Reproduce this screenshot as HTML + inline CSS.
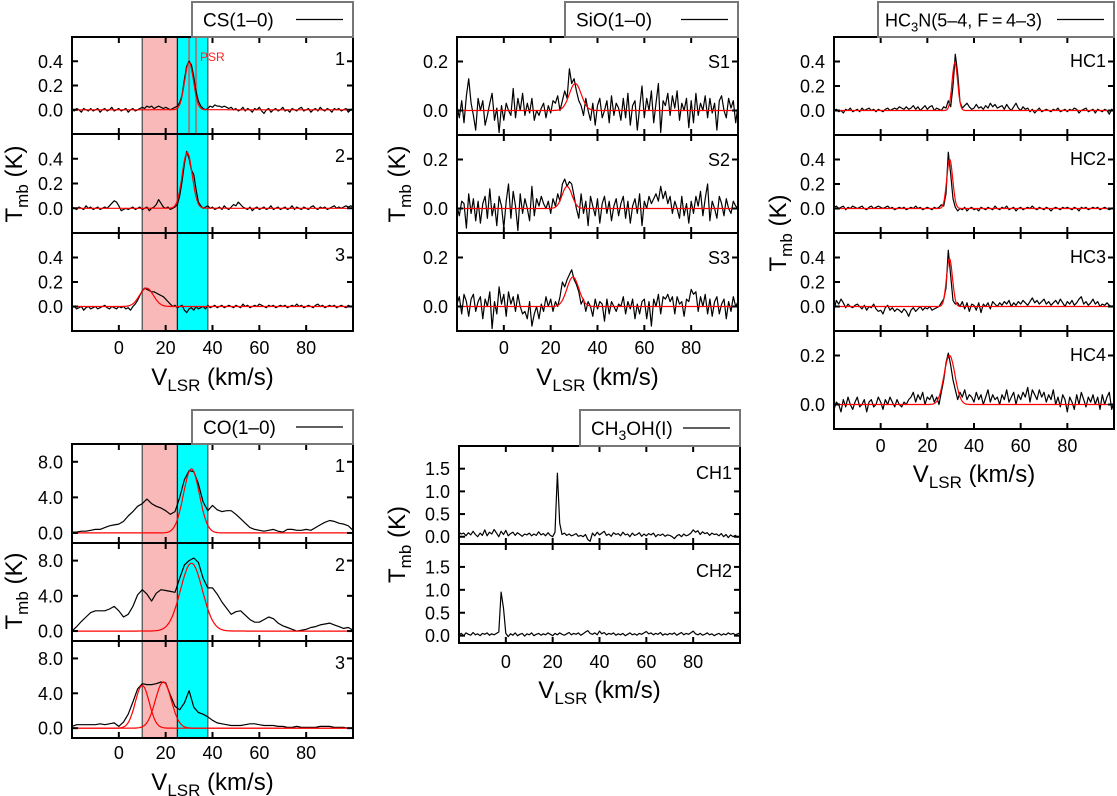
<!DOCTYPE html>
<html><head><meta charset="utf-8"><title>Spectra</title>
<style>
html,body{margin:0;padding:0;background:#fff;}
svg{display:block;font-family:"Liberation Sans",Arial,sans-serif;}
</style></head>
<body>
<svg id="chart" width="1117" height="796" viewBox="0 0 1117 796" xmlns="http://www.w3.org/2000/svg"></svg>
<script>
// ---------- DATA (velocity grid starts at -20 km/s) ----------
const velStart = -20;
const fineStep = 1;   // km/s for CS, SiO, HC3N, CH3OH
const coStep = 2;     // km/s for CO
const xTickValues = [0, 20, 40, 60, 80];
const csYTicks = [0, 0.2, 0.4];
const sioYTicks = [0, 0.2];
const hcYTicks = [0, 0.2, 0.4];
const hc4YTicks = [0, 0.2];
const coYTicks = [0, 4, 8];
const chYTicks = [0, 0.5, 1.0, 1.5];
const redBand = [10, 25];
const cyanBand = [25, 38];
const psrLines = [30, 33];

const cs1 = [0.00,-0.01,0.01,0.00,-0.02,0.01,0.00,-0.01,0.01,-0.01, 0.00,0.01,-0.02,0.00,0.01,-0.01,0.00,0.02,-0.01,0.00, 0.01,-0.01,0.00,0.01,-0.02,0.00,0.01,-0.01,0.00,0.01, 0.02,0.01,0.03,0.02,0.03,0.01,0.02,0.03,0.02,0.01, 0.02,0.01,0.00,0.01,0.02,0.03,0.06,0.12,0.25,0.36, 0.40,0.37,0.27,0.15,0.07,0.03,0.01,0.00,0.01,0.03, 0.02,0.04,0.03,0.03,0.02,0.03,0.02,0.01,0.02,0.00, 0.01,-0.01,0.00,0.02,-0.01,0.01,0.00,-0.02,0.01,0.00, 0.02,-0.01,-0.03,0.00,0.01,-0.02,0.00,0.01,-0.01,0.00, 0.02,-0.01,0.00,-0.02,0.01,0.00,-0.01,0.01,0.02,-0.01, 0.00,0.01,-0.02,0.00,0.01,-0.01,0.02,0.00,-0.01,0.01, 0.00,-0.02,0.01,0.00,0.01,-0.01,0.00,0.01,-0.02,0.00, 0.01];
const cs2 = [0.01,0.00,-0.01,0.01,0.00,-0.01,0.02,0.00,0.01,-0.01, 0.00,0.01,-0.01,0.00,0.01,0.00,0.02,0.04,0.06,0.05, 0.02,-0.02,-0.01,0.00,-0.01,0.00,0.01,-0.01,0.00,0.01, -0.01,0.00,0.01,-0.02,0.00,0.01,0.03,0.07,0.04,0.01, 0.00,0.01,-0.01,0.00,0.01,0.03,0.10,0.22,0.36,0.46, 0.40,0.31,0.27,0.15,0.05,0.02,0.00,0.01,0.02,0.00, 0.01,-0.01,0.00,0.01,-0.01,0.02,0.00,-0.01,0.01,0.03, 0.02,0.05,0.03,0.01,0.00,-0.01,0.01,-0.02,0.00,0.01, -0.01,0.00,0.01,-0.01,0.00,0.02,-0.01,0.00,0.01,-0.01, 0.00,0.01,-0.01,0.00,0.02,-0.01,0.01,0.00,-0.01,0.01, 0.00,-0.01,0.01,0.02,0.00,-0.01,0.01,0.00,0.01,-0.01, 0.00,0.01,0.02,0.00,0.01,0.00,0.01,0.02,0.01,0.02, 0.01];
const cs3 = [-0.01,0.00,-0.02,-0.01,0.00,-0.03,-0.01,0.00,-0.02,-0.01, 0.00,-0.02,-0.01,0.00,0.01,-0.01,-0.02,0.00,-0.01,-0.02, 0.00,-0.01,0.00,-0.02,-0.01,-0.03,0.00,0.02,0.05,0.09, 0.13,0.15,0.14,0.13,0.12,0.12,0.11,0.10,0.09,0.08, 0.06,0.04,0.02,0.00,0.01,-0.01,0.00,0.01,-0.03,-0.05, -0.02,-0.01,-0.03,0.00,-0.02,-0.01,0.00,-0.02,0.01,-0.01, 0.00,0.01,-0.01,0.00,0.01,-0.01,0.00,0.01,0.00,-0.01, 0.01,0.00,-0.01,0.02,0.00,0.01,-0.01,0.00,0.01,0.00, 0.02,0.01,0.00,-0.01,0.01,0.00,0.01,-0.01,0.00,0.01, 0.00,0.01,-0.01,0.00,0.01,0.00,0.02,0.00,0.01,-0.01, 0.00,0.01,0.00,-0.01,0.01,0.02,0.00,0.01,-0.01,0.00, 0.01,0.00,0.01,-0.01,0.00,0.01,0.00,-0.01,0.01,0.00, 0.00];

const co1 = [0.1,0.1,0.2,0.2,0.3,0.4,0.4,0.6,0.8,0.9, 1.0,1.3,1.9,2.4,3.0,3.3,3.8,3.3,3.0,2.8, 2.5,2.1,2.4,4.0,6.0,7.0,6.9,5.5,3.5,2.5, 3.1,2.6,2.4,2.5,2.5,2.1,1.6,1.1,0.6,0.4, 0.3,0.2,0.3,0.4,0.2,0.1,0.4,0.4,0.3,0.3, 0.4,0.3,0.6,0.9,1.2,1.4,1.3,1.1,1.0,0.8, 0.3];
const co2 = [0.0,0.5,1.1,1.6,2.1,2.3,2.3,2.3,2.5,2.8, 2.3,1.6,1.9,2.8,4.1,4.7,4.2,3.4,4.3,4.7, 4.6,4.5,4.4,6.0,7.5,8.0,8.3,7.8,6.0,4.9, 4.9,4.2,3.3,2.6,1.9,2.2,2.3,1.8,1.3,1.0, 1.0,1.3,1.6,1.4,0.9,0.6,0.4,0.2,0.0,0.1, 0.2,0.4,0.5,0.7,0.8,0.9,0.7,0.5,0.3,0.4, 0.1];
const co3 = [0.2,0.4,0.4,0.4,0.4,0.4,0.5,0.4,0.5,0.6, 0.2,0.7,1.6,3.0,4.5,5.1,5.0,5.0,5.1,5.3, 5.2,3.8,2.5,2.1,2.9,4.3,2.4,1.8,1.6,1.3, 0.9,0.6,0.5,0.4,0.3,0.3,0.3,0.4,0.5,0.5, 0.4,0.3,0.3,0.3,0.2,0.2,0.1,0.1,0.2,0.1, 0.1,0.1,0.1,0.2,0.2,0.2,0.1,0.1,0.1,0.0, 0.0];

const sio1 = [0.02,-0.03,0.04,-0.05,0.06,0.13,0.03,-0.02,-0.08,0.05, 0.00,0.04,-0.06,-0.02,0.03,0.07,-0.04,0.01,-0.09,0.02, -0.04,0.03,0.00,-0.02,0.09,-0.03,0.05,0.00,0.07,-0.02, 0.03,-0.01,0.05,-0.04,0.00,-0.02,0.01,0.03,-0.03,0.02, -0.01,0.04,0.03,0.06,0.00,0.04,0.08,0.05,0.17,0.11, 0.13,0.08,0.04,0.02,-0.02,0.05,0.00,-0.04,0.03,-0.06, 0.02,0.05,-0.03,0.00,0.04,-0.05,0.06,-0.02,0.03,0.01, -0.04,0.05,-0.03,0.07,-0.06,0.02,0.04,-0.08,0.01,0.10, -0.03,0.05,0.00,0.08,-0.05,0.03,0.11,-0.09,0.04,0.02, 0.07,-0.02,0.06,0.01,0.08,-0.04,0.03,0.00,0.05,-0.07, 0.04,-0.05,0.07,-0.02,0.03,0.00,0.06,-0.03,0.05,-0.01, 0.03,-0.08,0.04,0.06,0.00,-0.03,0.05,0.01,0.04,-0.05, 0.02];
const sio2 = [0.01,-0.03,0.03,0.02,-0.08,0.06,-0.02,0.04,-0.05,0.03, -0.06,0.02,0.05,-0.04,0.08,-0.03,0.02,-0.07,0.05,0.01, -0.08,0.03,0.10,-0.04,0.07,0.01,-0.09,0.06,-0.02,0.04, 0.00,-0.05,0.09,-0.03,0.04,0.01,0.05,0.02,0.00,0.03, -0.02,0.04,0.01,0.06,0.03,0.10,0.12,0.09,0.11,0.10, 0.05,0.00,-0.04,0.06,-0.02,0.03,-0.07,0.05,0.01,-0.03, 0.04,-0.06,0.02,0.05,-0.02,0.03,-0.05,0.01,0.04,-0.03, 0.02,0.05,-0.04,0.03,-0.06,0.01,0.04,-0.02,0.06,-0.07, 0.03,0.00,0.05,0.02,0.04,0.06,0.03,0.09,0.04,0.07, 0.02,0.05,-0.02,0.03,0.00,-0.04,0.05,-0.03,0.02,-0.06, 0.03,-0.02,0.05,0.01,0.07,-0.03,0.04,0.10,-0.05,0.03, 0.00,-0.04,0.05,0.02,-0.03,0.04,0.00,-0.02,0.03,0.01, 0.00];
const sio3 = [0.01,0.04,-0.03,0.05,0.02,-0.04,0.03,0.05,-0.02,0.02, 0.04,-0.05,0.03,0.00,0.06,-0.09,0.02,-0.03,0.08,0.01, 0.05,-0.04,0.06,0.01,0.04,-0.02,0.05,0.00,-0.03,-0.02, -0.05,0.02,-0.08,-0.03,0.00,-0.05,0.01,-0.02,0.04,0.00, 0.03,-0.02,0.02,0.00,0.04,0.10,0.08,0.11,0.13,0.15, 0.11,0.09,0.06,0.01,0.03,-0.02,0.02,0.00,-0.04,0.03, -0.01,0.02,0.01,-0.06,0.03,-0.03,0.02,0.00,-0.02,0.01, 0.00,0.04,-0.03,0.02,-0.01,0.03,-0.05,0.01,-0.03,0.02, 0.03,-0.05,0.02,-0.08,0.03,0.00,0.05,-0.03,0.04,0.03, 0.05,0.02,0.04,-0.03,0.04,0.01,0.02,-0.04,0.03,0.02, 0.07,0.05,0.06,-0.02,0.04,0.00,0.05,-0.03,0.03,-0.04, 0.02,0.04,-0.03,0.01,0.03,-0.05,0.02,-0.02,0.04,0.00, 0.02];

const hc1 = [0.00,0.01,-0.01,0.00,-0.02,0.01,0.00,0.02,-0.01,0.00, 0.01,-0.01,0.02,0.00,0.01,0.02,0.00,0.01,-0.01,0.01, 0.00,-0.01,0.01,0.02,0.00,0.01,0.02,0.01,0.03,0.02, 0.01,0.03,0.01,0.02,0.04,0.01,0.03,0.00,0.02,0.04, 0.01,0.03,0.04,0.00,0.02,0.01,0.00,0.03,0.02,0.08, 0.03,0.20,0.46,0.30,0.07,0.02,0.04,0.06,0.03,0.01, 0.02,0.05,0.02,0.03,0.01,0.04,0.02,0.06,0.03,0.05, 0.02,0.03,0.04,0.01,0.05,0.02,0.00,0.03,0.06,0.02, 0.00,0.03,0.01,0.02,-0.01,0.01,-0.02,0.00,0.02,-0.01, 0.00,0.01,0.00,-0.01,0.01,0.00,0.02,-0.01,0.00,0.01, -0.01,0.01,0.00,0.02,0.01,-0.02,0.00,0.01,0.02,-0.01, 0.00,0.01,-0.02,0.01,0.00,-0.01,0.01,0.00,-0.03,0.01, 0.00];
const hc2 = [0.01,0.02,0.00,0.01,0.02,-0.01,0.01,0.00,0.02,0.01, 0.00,0.01,0.02,0.00,-0.01,0.01,0.02,0.00,0.01,0.02, 0.01,0.00,0.01,0.02,0.00,0.01,-0.01,0.00,0.01,0.00, 0.01,-0.01,0.00,0.01,0.00,0.02,0.00,0.01,-0.01,0.00, 0.01,0.00,-0.01,0.01,0.00,0.01,0.03,0.02,0.12,0.46, 0.28,0.08,0.01,-0.02,0.00,-0.01,0.01,-0.02,0.00,0.01, -0.01,0.00,-0.02,0.01,0.00,-0.01,0.01,0.00,-0.01,0.02, 0.00,-0.01,0.01,0.00,0.02,-0.01,0.00,0.01,-0.02,0.00, 0.01,-0.01,0.00,0.01,0.00,0.02,0.00,-0.01,0.01,0.00, -0.01,0.01,0.00,-0.02,0.00,0.01,0.00,-0.01,0.01,0.00, 0.01,0.00,-0.01,0.01,0.00,-0.02,0.01,0.00,0.01,-0.01, 0.00,0.01,0.00,0.01,-0.01,0.00,0.01,0.00,-0.01,0.00, 0.01];
const hc3 = [-0.03,0.05,0.02,0.06,0.03,-0.01,0.02,0.00,-0.01,0.01, 0.02,0.00,-0.02,0.01,-0.03,0.00,-0.01,0.02,-0.02,-0.04, -0.03,-0.06,-0.01,0.01,-0.03,-0.01,-0.04,-0.02,-0.03,-0.05, -0.02,-0.04,-0.08,-0.03,-0.01,-0.04,-0.02,0.00,-0.03,-0.01, -0.02,0.00,-0.03,-0.02,-0.01,0.00,0.03,0.06,0.15,0.46, 0.25,0.05,0.02,0.03,0.00,0.04,-0.02,0.03,-0.04,0.02, 0.01,-0.03,0.03,-0.05,0.02,0.00,0.03,-0.02,0.04,0.02, 0.00,0.03,0.01,0.04,0.02,0.05,0.00,0.03,0.01,0.04, 0.02,0.05,0.03,0.01,0.04,0.07,0.03,0.05,0.02,0.04, 0.06,0.02,0.04,0.01,0.03,0.05,0.02,0.06,0.03,0.00, 0.04,0.02,0.05,0.01,0.03,0.06,0.08,0.02,0.04,0.01, 0.03,0.06,0.02,0.04,0.00,0.02,0.01,0.03,0.01,0.00, 0.01];
const hc4 = [-0.02,0.01,0.00,-0.03,0.02,-0.01,0.03,0.00,-0.02,0.01, 0.03,-0.01,0.00,0.02,-0.03,0.01,0.02,-0.01,0.00,0.03, 0.01,-0.02,0.02,0.00,0.03,0.01,-0.01,0.02,0.00,-0.01, 0.01,0.00,0.02,0.03,0.05,0.01,0.04,0.02,0.05,0.00, 0.03,0.02,0.04,0.01,0.03,0.00,0.05,0.10,0.17,0.21, 0.16,0.10,0.06,0.02,0.05,0.03,0.06,0.02,0.04,0.03, 0.01,0.05,0.02,0.04,0.00,0.03,0.06,0.01,0.04,0.02, 0.03,0.00,0.04,0.02,0.06,0.01,0.03,0.05,0.00,0.04, 0.02,0.05,0.03,0.07,0.01,0.06,0.04,0.02,0.06,0.03, 0.05,0.01,0.04,0.02,0.06,0.00,0.03,-0.01,0.04,0.02, -0.03,0.03,0.01,-0.02,0.04,0.00,0.05,0.02,-0.01,0.03, 0.01,0.04,0.00,0.03,-0.02,0.04,0.00,0.03,0.05,-0.02, 0.01];

const ch1 = [0.10,0.06,0.08,0.02,0.09,0.04,0.12,0.05,0.00,0.08, 0.03,0.15,0.02,0.10,0.06,0.16,0.08,0.00,0.12,0.05, 0.14,0.02,0.07,0.10,0.03,0.09,0.05,0.01,0.06,0.04, 0.08,0.02,0.06,0.03,0.11,0.04,0.07,0.02,0.09,0.03, 0.00,0.10,1.40,0.30,0.05,0.08,0.03,0.06,0.02,0.04, 0.07,0.01,0.03,0.00,0.05,-0.06,-0.10,0.08,0.02,0.10, 0.04,0.08,0.12,0.03,0.06,0.01,0.09,0.05,0.07,0.02, 0.10,0.04,0.06,0.00,0.08,0.03,0.05,0.09,0.01,0.06, 0.02,0.07,0.04,0.08,0.00,0.05,0.03,0.06,0.01,0.04, 0.03,0.00,-0.04,0.02,0.05,0.00,0.06,0.02,0.04,0.08, 0.15,0.10,0.13,0.05,0.11,0.07,0.09,0.03,0.08,0.05, 0.06,0.02,0.07,0.00,0.05,-0.02,0.04,0.00,0.03,-0.01, 0.02];
const ch2 = [0.02,0.05,0.00,0.06,0.03,0.01,0.07,0.02,0.04,0.00, 0.05,0.03,0.06,0.01,0.04,0.02,0.05,0.08,0.95,0.60, 0.05,-0.02,0.04,0.01,0.06,0.00,0.03,0.05,-0.01,0.04, 0.02,0.06,0.00,0.03,0.05,0.01,0.04,0.02,0.06,0.03, 0.00,0.05,0.02,0.06,0.03,0.01,0.04,0.07,0.02,0.05, 0.03,0.06,0.01,0.04,0.08,0.11,0.05,0.03,0.06,0.02, 0.10,0.04,0.07,0.02,0.05,0.03,0.06,0.01,0.04,0.02, 0.05,0.00,0.03,0.06,0.02,0.04,0.01,0.05,0.03,0.06, 0.09,0.04,0.06,0.02,0.05,0.03,0.07,0.01,0.04,0.02, 0.05,0.03,0.06,0.01,0.04,0.07,0.02,0.05,0.03,0.06, 0.10,0.04,0.02,0.05,0.01,0.03,0.06,0.02,0.04,0.00, 0.03,0.05,0.01,0.04,0.02,0.06,0.03,0.05,0.02,0.04, 0.06];

// Gaussian fit parameters: amplitude (K), centre (km/s), FWHM (km/s)
const cs1Fit = [0.39, 30.0, 4.5];
const cs2Fit = [0.45, 29.2, 5.0];
const cs3Fit = [0.15, 11.8, 7.0];
const co1Fit = [7.2, 31.0, 8.0];
const co2Fit = [7.7, 31.0, 11.0];
const co3FitA = [4.9, 10.0, 7.0];
const co3FitB = [5.3, 19.0, 8.0];
const sio1Fit = [0.11, 30.5, 6.0];
const sio2Fit = [0.09, 27.0, 5.0];
const sio3Fit = [0.12, 29.5, 6.0];
const hc1Fit = [0.39, 31.8, 2.8];
const hc2Fit = [0.40, 29.6, 3.0];
const hc3Fit = [0.39, 29.5, 3.0];
const hc4Fit = [0.20, 29.5, 5.5];

// ---------- DRAWING ----------
const NS = "http://www.w3.org/2000/svg";
const svg = document.getElementById('chart');
function mk(tag, attrs, parent) {
  const e = document.createElementNS(NS, tag);
  for (const k in attrs) e.setAttribute(k, attrs[k]);
  (parent || svg).appendChild(e);
  return e;
}
function gauss(v, f) { const s = f[2] / 2.3548; return f[0] * Math.exp(-0.5 * Math.pow((v - f[1]) / s, 2)); }

const groups = [
  {name:'cs', x0:72, x1:353, tops:[37,134,233,331], yr:[[-0.2,0.6],[-0.2,0.6],[-0.2,0.6]], yt:[csYTicks,csYTicks,csYTicks],
   spec:[cs1,cs2,cs3], step:fineStep, fits:[[cs1Fit],[cs2Fit],[cs3Fit]], labels:['1','2','3'], bands:true, psr:true,
   lblDy:28, tickBase:354, titleBase:385, yTitleX:14, legend:{x0:192,x1:353,y0:2,y1:37,text:'CS(1–0)'}},
  {name:'sio', x0:457, x1:738, tops:[37,135,233,331], yr:[[-0.1,0.3],[-0.1,0.3],[-0.1,0.3]], yt:[sioYTicks,sioYTicks,sioYTicks],
   spec:[sio1,sio2,sio3], step:fineStep, fits:[[sio1Fit],[sio2Fit],[sio3Fit]], labels:['S1','S2','S3'],
   lblDy:31, tickBase:354, titleBase:385, yTitleX:397, legend:{x0:565,x1:738,y0:2,y1:37,text:'SiO(1–0)'}},
  {name:'hc3n', x0:834, x1:1114, tops:[37,135,233,331,429], yr:[[-0.2,0.6],[-0.2,0.6],[-0.2,0.6],[-0.1,0.3]], yt:[hcYTicks,hcYTicks,hcYTicks,hc4YTicks],
   spec:[hc1,hc2,hc3,hc4], step:fineStep, fits:[[hc1Fit],[hc2Fit],[hc3Fit],[hc4Fit]], labels:['HC1','HC2','HC3','HC4'],
   lblDy:30, tickBase:452, titleBase:482, yTitleX:778, legend:{x0:878,x1:1114,y0:2,y1:37,hc:true}},
  {name:'co', x0:72, x1:353, tops:[444,543,641,738], yr:[[-1.13,10],[-1.13,10],[-1.13,10]], yt:[coYTicks,coYTicks,coYTicks],
   spec:[co1,co2,co3], step:coStep, fits:[[co1Fit],[co2Fit],[co3FitA,co3FitB]], labels:['1','2','3'], bands:true,
   lblDy:28, tickBase:759, titleBase:790, yTitleX:14, legend:{x0:192,x1:353,y0:410,y1:444,text:'CO(1–0)'}},
  {name:'ch3oh', x0:459, x1:740, tops:[446,544,643], yr:[[-0.16,2.0],[-0.16,2.0]], yt:[chYTicks,chYTicks],
   spec:[ch1,ch2], step:fineStep, fits:[[],[]], labels:['CH1','CH2'],
   lblDy:33, tickBase:668, titleBase:698, yTitleX:397, legend:{x0:580,x1:740,y0:410,y1:446,ch:true}}
];

let clipId = 0;
groups.forEach(g => {
  const G = mk('g', {});
  
  
  const xs = v => g.x0 + (v - velStart) / 120 * (g.x1 - g.x0);
  const nP = g.spec.length;
  for (let p = 0; p < nP; p++) {
    const y0 = g.tops[p], y1 = g.tops[p + 1];
    const [ymin, ymax] = g.yr[p];
    const ys = t => y1 - (t - ymin) / (ymax - ymin) * (y1 - y0);
    const P = mk('g', {}, G);
    
    
    const cid = 'clip' + (clipId++);
    const cp = mk('clipPath', {id: cid}, P);
    mk('rect', {x: g.x0, y: y0, width: g.x1 - g.x0, height: y1 - y0}, cp);
    const body = mk('g', {'clip-path': 'url(#' + cid + ')'}, P);
    if (g.bands) {
      const rb = mk('rect', {x: xs(redBand[0]), y: y0, width: xs(redBand[1]) - xs(redBand[0]), height: y1 - y0, fill: '#f9b9b9'}, body);
      
      
      const cb = mk('rect', {x: xs(cyanBand[0]), y: y0, width: xs(cyanBand[1]) - xs(cyanBand[0]), height: y1 - y0, fill: '#00ffff'}, body);
      
      
      [redBand[0], cyanBand[0], cyanBand[1]].forEach((v, k) => {
        mk('line', {x1: xs(v), x2: xs(v), y1: y0, y2: y1, stroke: k === 1 ? '#222' : '#555', 'stroke-width': 1.3}, body);
      });
      if (g.psr && p === 0) {
        psrLines.forEach(v => {
          const l = mk('line', {x1: xs(v), x2: xs(v), y1: y0, y2: y1, stroke: '#888', 'stroke-width': 2}, body);
          
          
        });
        const t = mk('text', {x: 200, y: 61, fill: '#ff2020', 'font-size': 12}, body);
        t.textContent = 'PSR';
        
        
      }
    }
    const data = g.spec[p];
    const pts = data.map((t, i) => xs(velStart + i * g.step).toFixed(1) + ',' + ys(t).toFixed(1)).join(' ');
    const sp = mk('polyline', {points: pts, fill: 'none', stroke: '#000', 'stroke-width': 1.2, 'stroke-linejoin': 'round'}, body);
    
    
    g.fits[p].forEach(f => {
      const fp = [];
      for (let v = velStart; v <= 100; v += 0.25) fp.push(xs(v).toFixed(1) + ',' + ys(gauss(v, f)).toFixed(1));
      const fl = mk('polyline', {points: fp.join(' '), fill: 'none', stroke: '#ff0000', 'stroke-width': 1.2}, body);
      
      
    });
    const fr = mk('rect', {x: g.x0, y: y0, width: g.x1 - g.x0, height: y1 - y0, fill: 'none', stroke: '#000', 'stroke-width': 2}, P);
    
    
    xTickValues.forEach(v => {
      mk('line', {x1: xs(v), x2: xs(v), y1: y0, y2: y0 + 6, stroke: '#000', 'stroke-width': 2}, P);
      mk('line', {x1: xs(v), x2: xs(v), y1: y1, y2: y1 - 6, stroke: '#000', 'stroke-width': 2}, P);
    });
    g.yt[p].forEach(t => {
      const yy = ys(t);
      mk('line', {x1: g.x0, x2: g.x0 + 6, y1: yy, y2: yy, stroke: '#000', 'stroke-width': 2}, P);
      mk('line', {x1: g.x1, x2: g.x1 - 6, y1: yy, y2: yy, stroke: '#000', 'stroke-width': 2}, P);
      const tl = mk('text', {x: g.x0 - 9, y: yy + 6.5, 'text-anchor': 'end', 'font-size': 18, fill: '#000'}, P);
      tl.textContent = t.toFixed(1);
      
      
    });
    const pl = mk('text', {x: g.x1 - 8, y: y0 + g.lblDy, 'text-anchor': 'end', 'font-size': 18, fill: '#000'}, P);
    pl.textContent = g.labels[p];
    
    
  }
  xTickValues.forEach(v => {
    const t = mk('text', {x: xs(v), y: g.tickBase, 'text-anchor': 'middle', 'font-size': 18, fill: '#000'}, G);
    t.textContent = String(v);
    
    
  });
  const xt = mk('text', {x: (g.x0 + g.x1) / 2, y: g.titleBase, 'text-anchor': 'middle', 'font-size': 24, fill: '#000'}, G);
  xt.innerHTML = 'V<tspan font-size="17" dy="6">LSR</tspan><tspan dy="-6"> (km/s)</tspan>';
  
  
  const yBottom = g.tops[nP];
  const cy = (g.tops[0] + yBottom) / 2;
  const yt = mk('text', {x: g.yTitleX, y: cy, 'text-anchor': 'middle', 'font-size': 24, fill: '#000', transform: 'rotate(-90 ' + g.yTitleX + ' ' + cy + ')', dy: 8}, G);
  yt.innerHTML = 'T<tspan font-size="17" dy="6">mb</tspan><tspan dy="-6"> (K)</tspan>';
  
  
  const L = g.legend;
  const lg = mk('g', {}, G);
  
  
  mk('rect', {x: L.x0, y: L.y0, width: L.x1 - L.x0, height: L.y1 - L.y0, fill: '#fff', stroke: '#777', 'stroke-width': 2}, lg);
  const ty = (L.y0 + L.y1) / 2 + 7;
  const lt = mk('text', {x: L.x0 + (L.hc ? 7 : 11), y: ty, 'font-size': L.hc ? 18 : 19, fill: '#000'}, lg);
  if (L.hc) lt.innerHTML = 'HC<tspan font-size="13" dy="5">3</tspan><tspan dy="-5">N(5–4, F\u2009=\u20094–3)</tspan>';
  else if (L.ch) lt.innerHTML = 'CH<tspan font-size="14" dy="5">3</tspan><tspan dy="-5">OH(I)</tspan>';
  else lt.textContent = L.text;
  
  
  const ls = mk('line', {x1: L.x1 - 57, x2: L.x1 - 10, y1: (L.y0 + L.y1) / 2, y2: (L.y0 + L.y1) / 2, stroke: '#000', 'stroke-width': 1.2}, lg);
  
  
});
</script>
</body></html>
